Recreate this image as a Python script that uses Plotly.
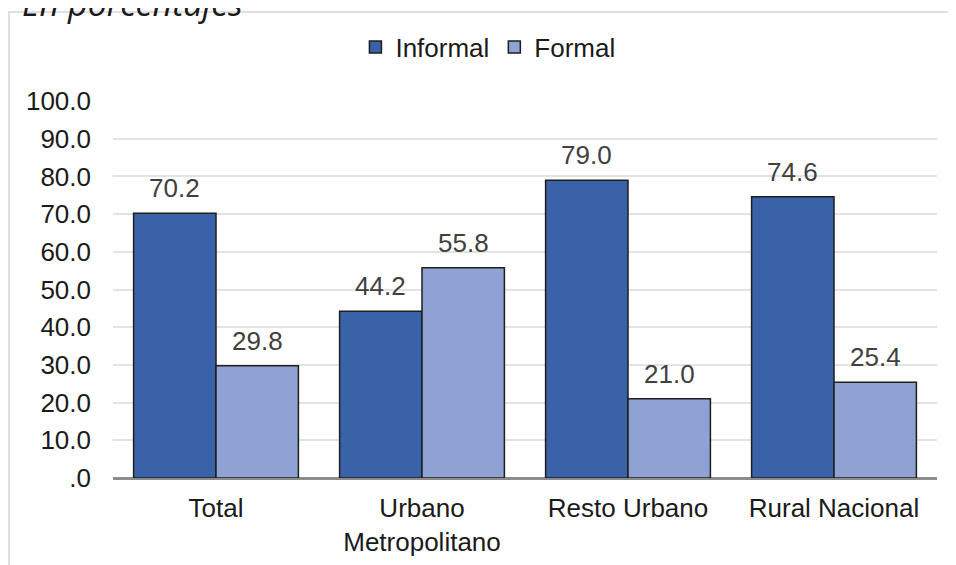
import plotly.graph_objects as go

categories = ["Total", "Urbano<br>Metropolitano", "Resto Urbano", "Rural Nacional"]
informal = [70.2, 44.2, 79.0, 74.6]
formal = [29.8, 55.8, 21.0, 25.4]
tick_vals = [0, 10, 20, 30, 40, 50, 60, 70, 80, 90, 100]
tick_text = [".0", "10.0", "20.0", "30.0", "40.0", "50.0", "60.0", "70.0", "80.0", "90.0", "100.0"]

FONT = "Liberation Sans"
FS = 26
W, H = 948, 557
L, R, T, B = 105, 19, 93, 87
PW, PH = W - L - R, H - T - B


def px_x(p):
    return (p - L) / PW


def px_y(p):
    return (H - B - p) / PH


fig = go.Figure()
fig.add_trace(go.Bar(
    name="Informal", x=categories, y=informal,
    marker=dict(color="#3A62A9", line=dict(color="#1e1e1e", width=1.5)),
))
fig.add_trace(go.Bar(
    name="Formal", x=categories, y=formal,
    marker=dict(color="#8FA2D4", line=dict(color="#1e1e1e", width=1.5)),
))

annotations = []
for i in range(len(categories)):
    for off, vals in ((-0.2, informal), (0.2, formal)):
        annotations.append(dict(
            x=i + off, y=vals[i], xref="x", yref="y", text=f"{vals[i]:.1f}",
            showarrow=False, yanchor="middle", yshift=25,
            font=dict(family=FONT, size=FS, color="#404040")))

annotations.append(dict(
    text="<i>En porcentajes</i>", xref="paper", yref="paper",
    x=px_x(12), xanchor="left", y=px_y(-5), yanchor="middle",
    showarrow=False, font=dict(family="Open Sans", size=34, color="#1a1a1a")))

fig.update_layout(
    width=W, height=H,
    margin=dict(l=L, r=R, t=T, b=B, autoexpand=False),
    paper_bgcolor="white", plot_bgcolor="white",
    barmode="group", bargap=0.2, bargroupgap=0,
    font=dict(family=FONT, size=FS, color="#1a1a1a"),
    legend=dict(orientation="h", x=0.455, xanchor="center", y=px_y(39), yanchor="middle",
                font=dict(family=FONT, size=FS, color="#1a1a1a"),
                itemwidth=30, tracegroupgap=0, bgcolor="rgba(0,0,0,0)"),
    xaxis=dict(showgrid=False, showline=False, ticks="", ticklabelstandoff=12,
               tickfont=dict(size=FS, color="#1a1a1a")),
    yaxis=dict(range=[0, 100], tickvals=tick_vals, ticktext=tick_text,
               showgrid=True, gridcolor="#E3E3E3", gridwidth=2,
               zeroline=True, zerolinecolor="#8C8C8C", zerolinewidth=3,
               showline=False, ticks="", ticklabelstandoff=21,
               tickfont=dict(size=FS, color="#1a1a1a")),
    shapes=[dict(type="rect", xref="paper", yref="paper",
                 x0=px_x(1), x1=px_x(W + 20), y0=px_y(H + 20), y1=px_y(4),
                 line=dict(color="#E0E0E0", width=2), layer="below")],
    annotations=annotations,
)

fig.write_html("out.html")
